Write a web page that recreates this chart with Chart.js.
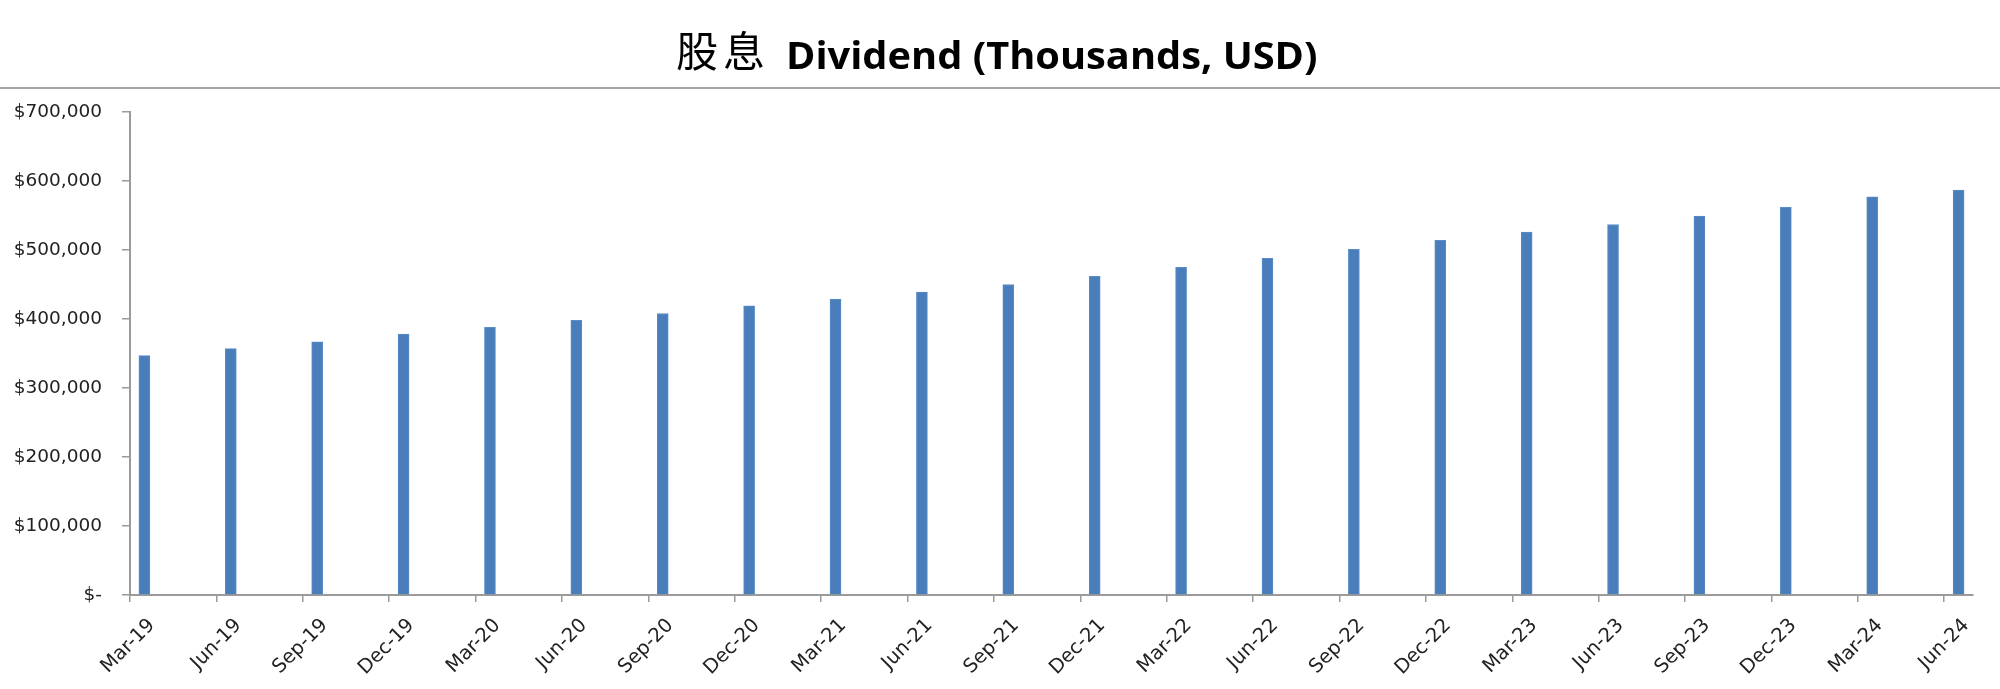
<!DOCTYPE html>
<html>
<head>
<meta charset="utf-8">
<script src="https://cdn.jsdelivr.net/npm/chart.js@4.4.1/dist/chart.umd.min.js"></script>
<style>
  html, body { margin: 0; padding: 0; background: #fff; }
  #wrap { position: relative; width: 2000px; height: 689px; overflow: hidden; }
  #chart { position: absolute; left: 0; top: 0; }
  .zh { position: absolute; left: 676px; top: 28px; font-family: "Noto Sans CJK TC", sans-serif; font-weight: 400; font-size: 42px; line-height: 1; letter-spacing: 5px; color: #000; white-space: nowrap; }
  .en { position: absolute; left: 786px; top: 36px; font-family: "Open Sans", sans-serif; font-weight: 700; font-size: 37px; line-height: 1; color: #000; white-space: nowrap; transform: scaleX(1.075); transform-origin: left top; }
  #rule { position: absolute; left: 0; top: 87px; width: 2000px; height: 2px; background: #a5a5a5; }
</style>
</head>
<body>
<div id="wrap">
  <canvas id="chart" width="2000" height="689"></canvas>
  <span class="zh">股息</span><span class="en">Dividend (Thousands, USD)</span>
  <div id="rule"></div>
</div>
<script>
// quarter labels (also the x tick labels)
const quarters = ['Mar-19', 'Jun-19', 'Sep-19', 'Dec-19', 'Mar-20', 'Jun-20', 'Sep-20', 'Dec-20',
  'Mar-21', 'Jun-21', 'Sep-21', 'Dec-21', 'Mar-22', 'Jun-22', 'Sep-22', 'Dec-22',
  'Mar-23', 'Jun-23', 'Sep-23', 'Dec-23', 'Mar-24', 'Jun-24'];

// dividend, thousands USD
const dividends = [347000, 357000, 367000, 378000, 388000, 398000, 408000, 419000,
  429000, 439000, 450000, 462000, 475000, 488000, 501000, 514000,
  526000, 537000, 549000, 562000, 577000, 587000];

const yTicks = [0, 100000, 200000, 300000, 400000, 500000, 600000, 700000];

// date axis in months from Mar-19; each bar sits in the middle of its month
const MONTHS = quarters.length * 3 - 2;
const points = quarters.map((q, i) => ({ x: i * 3 + 0.5, y: dividends[i] }));

const axisColor = '#9a9a9a';

new Chart(document.getElementById('chart'), {
  type: 'bar',
  data: {
    datasets: [{
      data: points,
      backgroundColor: '#4a7ebb',
      borderColor: '#5b8cc8',
      borderWidth: 1,
      barThickness: 11,
    }]
  },
  options: {
    responsive: false,
    animation: false,
    layout: { padding: { left: 0, right: 27, top: 112, bottom: 0 } },
    plugins: { legend: { display: false }, tooltip: { enabled: false } },
    scales: {
      x: {
        type: 'linear',
        min: 0,
        max: MONTHS,
        offset: false,
        afterBuildTicks: (scale) => {
          scale.ticks = quarters.map((q, i) => ({ value: i * 3 }));
        },
        afterFit: (scale) => { scale.height = 94; },
        ticks: {
          autoSkip: false,
          minRotation: 45,
          maxRotation: 45,
          labelOffset: 22,
          padding: 12,
          color: '#222',
          font: { family: 'DejaVu Sans', size: 19.5 },
          callback: (v) => quarters[Math.round(v / 3)],
        },
        grid: { drawOnChartArea: false, tickLength: 7, color: axisColor, lineWidth: 1.5, offset: false },
        border: { color: axisColor, width: 2 },
      },
      y: {
        min: 0,
        max: 700000,
        afterBuildTicks: (scale) => {
          scale.ticks = yTicks.map((v) => ({ value: v }));
        },
        afterFit: (scale) => { scale.width = 130; },
        ticks: {
          padding: 20,
          color: '#222',
          font: { family: 'DejaVu Sans', size: 18.5 },
          callback: (v) => v === 0 ? '$-' : '$' + v.toLocaleString('en-US'),
        },
        grid: { drawOnChartArea: false, tickLength: 8, color: axisColor, lineWidth: 1.5 },
        border: { color: axisColor, width: 2 },
      }
    }
  }
});
</script>
</body>
</html>
